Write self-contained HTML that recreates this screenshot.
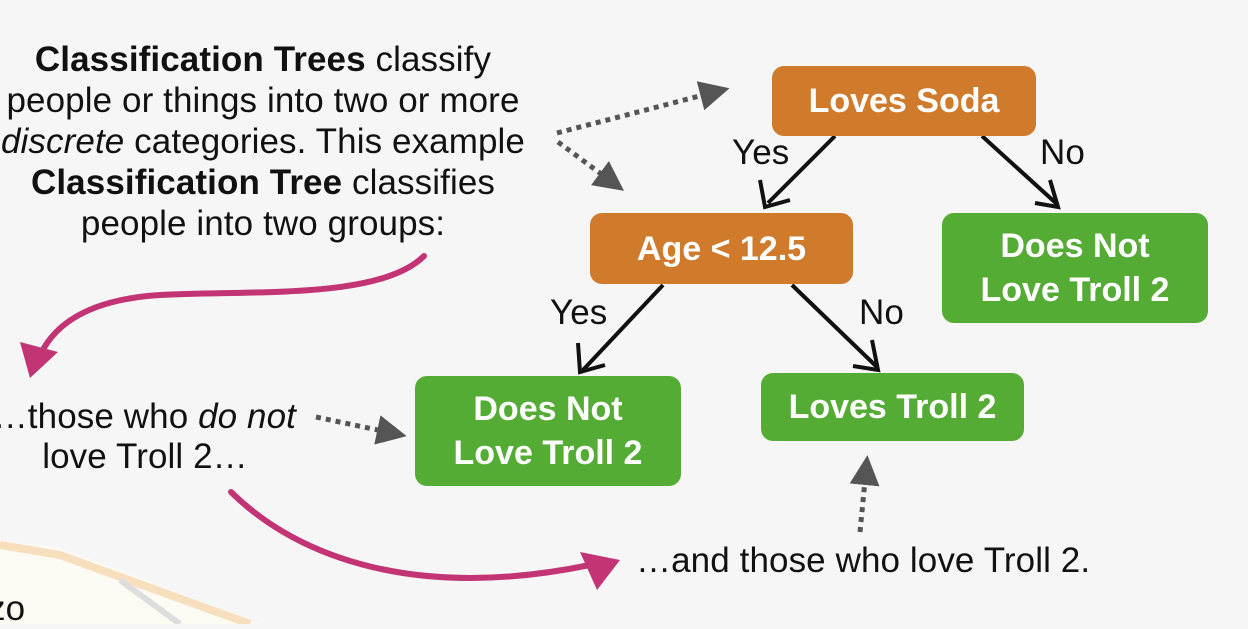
<!DOCTYPE html>
<html><head><style>
body{margin:0;width:1248px;height:624px;overflow:hidden;background:#f6f6f6;font-family:"Liberation Sans",sans-serif;}
.t{position:absolute;font-size:35px;color:#111;text-align:center;white-space:nowrap;line-height:41px;letter-spacing:0.1px}
.b{position:absolute;border-radius:12px;color:#fff;font-weight:bold;font-size:34px;display:flex;align-items:center;justify-content:center;text-align:center;line-height:44px}
.o{background:#d07a2c}.g{background:#55ac35}
</style></head><body>
<svg width="1248" height="624" style="position:absolute;left:0;top:0">
<defs>
<marker id="ga" markerWidth="6" markerHeight="6" refX="3" refY="3" orient="auto"><path d="M0,0 L6,3 L0,6 z" fill="#555"/></marker>
</defs>
<polygon points="0,540 60,548 260,624 0,624" fill="#fbfaf3"/>
<path d="M0,545 L60,555 L250,624" stroke="#f7dfbd" stroke-width="8" fill="none"/>
<path d="M120,580 L180,624" stroke="#ddd" stroke-width="6" fill="none"/>
<g stroke="#555" stroke-width="5" stroke-dasharray="5,5" fill="none" marker-end="url(#ga)">
<path d="M557,133 L715,92"/>
<path d="M558,142 L612,182"/>
<path d="M316,417 L392,433"/>
<path d="M860,532 L866,470"/>
</g>
<g stroke="#111" stroke-width="4" fill="none">
<path d="M835,136 L768,203 M760,180 L765,207 L790,200"/>
<path d="M982,136 L1058,205 M1050,180 L1058,207 L1035,203"/>
<path d="M663,285 L583,370 M578,343 L580,372 L605,365"/>
<path d="M792,285 L878,368 M872,340 L878,370 L853,366"/>
</g>
<g stroke="#c23473" stroke-width="6" fill="none" stroke-linecap="round">
<path d="M424,256 C380,300 250,290 160,295 C80,300 50,330 38,360"/>
<path d="M231,492 C300,560 420,600 590,565"/>
</g>
<polygon points="20,342 58,352 30,378" fill="#c23473"/>
<polygon points="580,552 620,560 597,590" fill="#c23473"/>
</svg>
<div class="t" style="left:-100px;width:726px;top:39px"><b>Classification Trees</b> classify<br>people or things into two or more<br><i>discrete</i> categories. This example<br><b>Classification Tree</b> classifies<br>people into two groups:</div>
<div class="t" style="left:-30px;width:326px;top:396px;text-align:right">…those who <i>do not</i></div>
<div class="t" style="left:30px;width:230px;top:436px">love Troll 2…</div>
<div class="t" style="left:636px;top:540px;text-align:left">…and those who love Troll 2.</div>
<div class="t" style="left:-12px;top:588px;text-align:left">zo</div>
<div class="t" style="left:732px;top:132px">Yes</div>
<div class="t" style="left:1040px;top:132px">No</div>
<div class="t" style="left:550px;top:292px">Yes</div>
<div class="t" style="left:859px;top:292px">No</div>
<div class="b o" style="left:772px;top:66px;width:264px;height:70px">Loves Soda</div>
<div class="b o" style="left:590px;top:213px;width:263px;height:71px">Age &lt; 12.5</div>
<div class="b g" style="left:942px;top:213px;width:266px;height:110px">Does Not<br>Love Troll 2</div>
<div class="b g" style="left:415px;top:376px;width:266px;height:110px">Does Not<br>Love Troll 2</div>
<div class="b g" style="left:761px;top:373px;width:263px;height:68px">Loves Troll 2</div>
</body></html>
